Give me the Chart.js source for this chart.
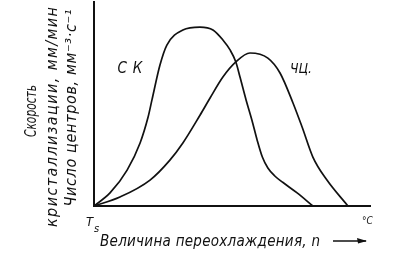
<!DOCTYPE html>
<html>
<head>
<meta charset="utf-8">
<script src="https://cdn.jsdelivr.net/npm/chart.js@4"></script>
<style>
  html, body { margin: 0; padding: 0; background: #fff; }
  #wrap { width: 408px; height: 253px; }
</style>
</head>
<body>
<div id="wrap"><canvas id="lienzo"></canvas></div>
<script>
'use strict';

// СК - скорость кристаллизации
const skX = [0, 5.8, 12.0, 16.7, 19.6, 21.0, 23.9, 26.4, 32.2, 38.4, 43.1, 46.7, 49.3, 51.4, 52.9, 55.1, 57.2, 59.1, 61.0, 63.0, 65.5, 68.5, 73.6, 79.3];
const skY = [0, 6.4, 17.6, 30.9, 43.6, 52.0, 69.1, 78.9, 86.3, 87.7, 86.3, 81.4, 76.5, 70.6, 63.2, 52.0, 42.2, 32.4, 24.0, 18.6, 14.7, 11.5, 6.4, 0];

// ЧЦ - число центров
const chcX = [0, 9.4, 20.3, 27.5, 32.2, 38.4, 42.0, 46.7, 51.4, 56.5, 63.0, 67.4, 72.1, 75.4, 79.3, 84.4, 92.0];
const chcY = [0, 4.4, 12.7, 22.5, 30.9, 44.5, 52.8, 63.2, 70.6, 75.0, 72.5, 65.2, 50.5, 38.7, 24.0, 12.7, 0];

const curveLabels = ['СК', 'ЧЦ.'];
const yTitle = ['Скорость', 'кристаллизации, мм/мин', 'Число центров, мм⁻³·с⁻¹'];
const xTitle = 'Величина переохлаждения, n';

const FONT = "'DejaVu Sans Condensed', 'Liberation Sans Narrow', sans-serif";

// escribe el texto ocupando el ancho dado: comprime si sobra, separa letras si falta
function textoAjustado(ctx, txt, cx, cy, ancho, size, rot) {
    ctx.save();
    ctx.font = 'italic ' + size + 'px ' + FONT;
    ctx.textAlign = 'left';
    ctx.textBaseline = 'middle';
    ctx.translate(cx, cy);
    if (rot) ctx.rotate(rot);
    const letras = Array.from(txt);
    const anchos = letras.map(l => ctx.measureText(l).width);
    const total = anchos.reduce((a, b) => a + b, 0);
    let extra = 0;
    if (total > ancho) {
        ctx.scale(ancho / total, 1);
    } else if (letras.length > 1) {
        extra = (ancho - total) / (letras.length - 1);
    }
    let x = -Math.max(ancho, total) / 2;
    letras.forEach((l, i) => {
        ctx.fillText(l, x, 0);
        x += anchos[i] + extra;
    });
    ctx.restore();
}

const textos = {
    id: 'textos',
    afterDraw(chart) {
        const ctx = chart.ctx;
        const sx = chart.scales.x, sy = chart.scales.y;
        ctx.fillStyle = '#111';

        textoAjustado(ctx, curveLabels[0], sx.getPixelForValue(13), sy.getPixelForValue(67), 25, 15, 0);
        textoAjustado(ctx, curveLabels[1], sx.getPixelForValue(75), sy.getPixelForValue(67), 22, 14, 0);

        textoAjustado(ctx, yTitle[0], 32, 111, 52, 16, -Math.PI / 2);
        textoAjustado(ctx, yTitle[1], 53, 117, 220, 16, -Math.PI / 2);
        textoAjustado(ctx, yTitle[2], 72, 108, 197, 16, -Math.PI / 2);

        textoAjustado(ctx, xTitle, 210, 242, 220, 15, 0);

        // T_s y °C
        ctx.save();
        ctx.font = 'italic 13px ' + FONT;
        ctx.textBaseline = 'alphabetic';
        ctx.fillText('T', 86, 226);
        ctx.font = 'italic 11px ' + FONT;
        ctx.fillText('s', 94, 232);
        ctx.font = 'italic 10px ' + FONT;
        ctx.fillText('°C', 362, 224);
        ctx.restore();

        // flecha
        ctx.save();
        ctx.strokeStyle = '#111';
        ctx.lineWidth = 1.3;
        ctx.beginPath();
        ctx.moveTo(333, 241);
        ctx.lineTo(366, 241);
        ctx.stroke();
        ctx.beginPath();
        ctx.moveTo(367, 241);
        ctx.lineTo(357, 238);
        ctx.lineTo(358, 243.5);
        ctx.closePath();
        ctx.fillStyle = '#111';
        ctx.fill();
        ctx.restore();
    }
};

const ctx = document.getElementById('lienzo');

const myChart = new Chart(ctx, {
    type: 'scatter',
    data: {
        datasets: [{
            label: 'СК',
            data: skX.map((x, i) => ({ x: x, y: skY[i] })),
            showLine: true,
            borderColor: '#111',
            borderWidth: 1.7,
            pointRadius: 0,
            cubicInterpolationMode: 'monotone',
            fill: false
        },
        {
            label: 'ЧЦ.',
            data: chcX.map((x, i) => ({ x: x, y: chcY[i] })),
            showLine: true,
            borderColor: '#111',
            borderWidth: 1.7,
            pointRadius: 0,
            cubicInterpolationMode: 'monotone',
            fill: false
        }]
    },
    options: {
        responsive: true,
        maintainAspectRatio: false,
        animation: false,
        layout: { padding: { left: 94, right: 38, top: 2, bottom: 47 } },
        plugins: {
            legend: { display: false },
            tooltip: { enabled: false }
        },
        scales: {
            x: {
                type: 'linear',
                min: 0,
                max: 100,
                ticks: { display: false },
                grid: { display: false, drawTicks: false },
                border: { display: true, color: '#111', width: 2 }
            },
            y: {
                min: 0,
                max: 100,
                ticks: { display: false },
                grid: { display: false, drawTicks: false },
                border: { display: true, color: '#111', width: 2 }
            }
        }
    },
    plugins: [textos]
});
</script>
</body>
</html>
